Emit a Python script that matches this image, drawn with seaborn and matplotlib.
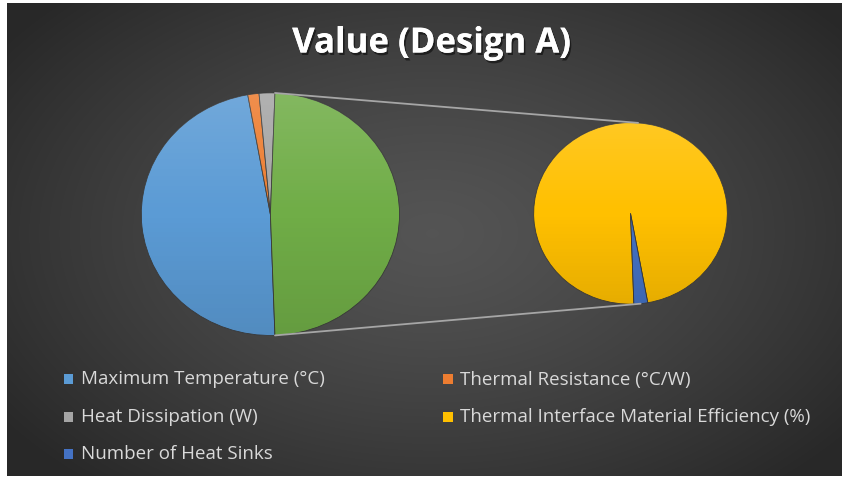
import numpy as np
import matplotlib
matplotlib.use("Agg")
import matplotlib.pyplot as plt
import matplotlib.patheffects as pe
from matplotlib.patches import Ellipse
from matplotlib.lines import Line2D
import seaborn as sns

# ---------------- data ----------------
main_labels = ["Maximum Temperature (°C)", "Thermal Resistance (°C/W)", "Heat Dissipation (W)"]
main_values = [85, 2.5, 3.5]
sub_labels = ["Thermal Interface Material Efficiency (%)", "Number of Heat Sinks"]
sub_values = [85, 2]
title_text = "Value (Design A)"

main_colors = ["#5b9bd5", "#ed7d31", "#a5a5a5"]
other_color = "#70ad47"
sub_colors = ["#ffc000", "#4472c4"]

sns.set_theme(style="white")
plt.rcParams["font.family"] = ["Open Sans", "DejaVu Sans"]

W, H = 850, 479
fig = plt.figure(figsize=(W / 100, H / 100), dpi=100, facecolor="white")

# background with radial gradient
bg = fig.add_axes([7 / W, 3 / H, 835 / W, 473 / H])
bg.set_axis_off()
yy, xx = np.mgrid[0:473, 0:835]
cx, cy = 425, 230
r = np.sqrt(((xx - cx) / 520) ** 2 + ((yy - cy) / 330) ** 2)
val = 0.33 - 0.17 * np.clip(r, 0, 1) ** 1.3
img = np.dstack([val, val, val])
bg.imshow(img, aspect="auto", extent=[0, 1, 0, 1], origin="upper")
bg.set_xlim(0, 1)
bg.set_ylim(0, 1)


def pie_axes(cx, cy, rx, ry):
    ax = fig.add_axes([(cx - rx) / W, (H - cy - ry) / H, 2 * rx / W, 2 * ry / H])
    ax.set_xlim(-1, 1)
    ax.set_ylim(-1, 1)
    ax.set_aspect("auto")
    ax.set_axis_off()
    ax.patch.set_alpha(0)
    return ax


def shade(ax):
    g = np.linspace(0, 1, 256)[:, None]
    rgba = np.zeros((256, 1, 4))
    rgba[..., :3] = np.where(g < 0.5, 1.0, 0.0)[..., None]
    rgba[..., 3] = np.where(g < 0.5, 0.14 * (0.5 - g) * 2, 0.10 * (g - 0.5) * 2)
    im = ax.imshow(rgba, extent=[-1, 1, -1, 1], aspect="auto", origin="upper", zorder=5)
    clip = Ellipse((0, 0), 2, 2, transform=ax.transData)
    im.set_clip_path(clip)


# main pie
ax1 = pie_axes(270.4, 214.2, 130.4, 122.5)
other_total = sum(sub_values)
vals1 = main_values + [other_total]
cols1 = main_colors + [other_color]
frac_other = other_total / sum(vals1)
start1 = -180 * frac_other  # "other" slice centred towards the secondary pie
w1, _ = ax1.pie(vals1, colors=cols1, startangle=start1, counterclock=False,
                wedgeprops=dict(linewidth=0.6, edgecolor="#3a3a3a"), radius=1)
ax1.set_xlim(-1.01, 1.01)
ax1.set_ylim(-1.01, 1.01)
shade(ax1)

# secondary pie
ax2 = pie_axes(630.5, 213.4, 97.8, 91.7)
w2, _ = ax2.pie(sub_values, colors=sub_colors, startangle=-88, counterclock=False,
                wedgeprops=dict(linewidth=0.6, edgecolor="#3a3a3a"), radius=1)
ax2.set_xlim(-1.01, 1.01)
ax2.set_ylim(-1.01, 1.01)
shade(ax2)

# connector lines
gw = w1[-1]
angs = [np.deg2rad(gw.theta1), np.deg2rad(gw.theta2)]
pts_main = [(np.cos(a), np.sin(a)) for a in angs]
pts_main.sort(key=lambda p: -p[1])
a_top, a_bot = np.deg2rad(85.5), np.deg2rad(-84)
pts_sub = [(np.cos(a_top), np.sin(a_top)), (np.cos(a_bot), np.sin(a_bot))]
inv = fig.transFigure.inverted()
for pm, ps in zip(pts_main, pts_sub):
    p1 = inv.transform(ax1.transData.transform(pm))
    p2 = inv.transform(ax2.transData.transform(ps))
    fig.add_artist(Line2D([p1[0], p2[0]], [p1[1], p2[1]], transform=fig.transFigure,
                          color="#a6a6a6", lw=1.3, zorder=1))

# title
fig.text(431.7 / W, 1 - 52.5 / H, title_text, ha="center", va="baseline", color="white",
         fontsize=25, fontweight="bold",
         path_effects=[pe.withSimplePatchShadow(offset=(1.2, -1.8), shadow_rgbFace="black", alpha=0.5),
                       pe.Normal()])

# legend (manual layout, row-major order)
leg_items = list(zip(main_labels, main_colors)) + list(zip(sub_labels, sub_colors))
col_x = [64, 443]
row_y = [379, 417, 453.5]
for i, (lab, colr) in enumerate(leg_items):
    rI, cI = divmod(i, 2)
    x, y = col_x[cI], row_y[rI]
    fig.patches.append(plt.Rectangle((x / W, 1 - (y + 5) / H), 9.5 / W, 10 / H,
                                     transform=fig.transFigure, facecolor=colr, edgecolor="none",
                                     figure=fig))
    fig.text((x + 17) / W, 1 - (y + 5.5) / H, lab, ha="left", va="baseline", color="#d9d9d9",
             fontsize=13.5)

fig.savefig("out.png", dpi=100, facecolor="white")
